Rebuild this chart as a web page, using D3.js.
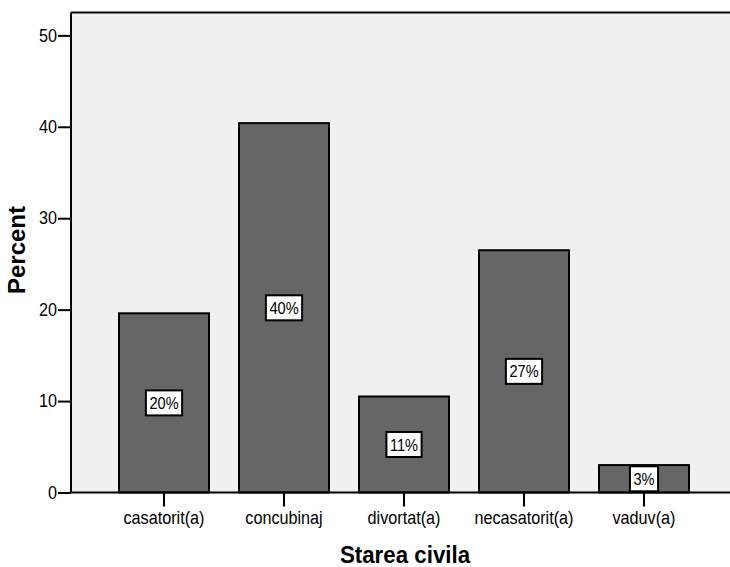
<!DOCTYPE html>
<html>
<head>
<meta charset="utf-8">
<script src="https://cdn.jsdelivr.net/npm/d3@7/dist/d3.min.js"></script>
<style>
  html, body { margin: 0; padding: 0; background: #ffffff; }
  svg { display: block; }
  text { font-family: "Liberation Sans", Arial, sans-serif; }
</style>
</head>
<body>
<svg id="chart" width="730" height="567"></svg>
<script>
const categories = ["casatorit(a)", "concubinaj", "divortat(a)", "necasatorit(a)", "vaduv(a)"];
const percentValues = [19.6, 40.4, 10.5, 26.5, 3.0];
const barLabels = ["20%", "40%", "11%", "27%", "3%"];
const yTickValues = [0, 10, 20, 30, 40, 50];
const xAxisTitle = "Starea civila";
const yAxisTitle = "Percent";

const svg = d3.select("#chart");
const plot = { left: 71, top: 12.5, right: 731, bottom: 492.5 };
const SX = 0.9;

const x = d3.scaleBand()
  .domain(categories)
  .range([104, 704])
  .paddingInner(0.25)
  .paddingOuter(0.125);

const y = d3.scaleLinear()
  .domain([0, 52.5])
  .range([plot.bottom, plot.top]);

svg.append("rect")
  .attr("x", plot.left).attr("y", plot.top)
  .attr("width", plot.right - plot.left).attr("height", plot.bottom - plot.top)
  .attr("fill", "#f0f0f0");

svg.append("line")
  .attr("x1", plot.left).attr("x2", plot.right)
  .attr("y1", plot.top).attr("y2", plot.top)
  .attr("stroke", "#000").attr("stroke-width", 2);

const data = categories.map((c, i) => ({ c, v: percentValues[i], label: barLabels[i] }));

svg.append("g").selectAll("rect")
  .data(data).join("rect")
  .attr("x", d => x(d.c))
  .attr("y", d => y(d.v))
  .attr("width", x.bandwidth())
  .attr("height", d => y(0) - y(d.v))
  .attr("fill", "#666666")
  .attr("stroke", "#000")
  .attr("stroke-width", 2);

// y axis
const yAxis = d3.axisLeft(y).tickValues(yTickValues).tickSize(13).tickPadding(1).tickFormat(d3.format("d"));
const gy = svg.append("g").attr("transform", `translate(${plot.left},0)`).call(yAxis);
gy.select(".domain").attr("d", `M0,${plot.top}V${plot.bottom}`).attr("stroke", "#000").attr("stroke-width", 2);
gy.selectAll(".tick line").attr("stroke", "#000").attr("stroke-width", 2);
gy.selectAll(".tick text").each(function () {
  const t = d3.select(this);
  const xx = +t.attr("x");
  t.attr("x", null)
    .attr("transform", `translate(${xx},0) scale(${SX},1)`)
    .attr("font-size", 18).attr("fill", "#000")
    .attr("font-family", "Liberation Sans, Arial, sans-serif");
});

// x axis
const xAxis = d3.axisBottom(x).tickSize(14).tickPadding(6);
const gx = svg.append("g").attr("transform", `translate(0,${plot.bottom})`).call(xAxis);
gx.select(".domain").attr("d", `M${plot.left},0H${plot.right}`).attr("stroke", "#000").attr("stroke-width", 2);
gx.selectAll(".tick line").attr("stroke", "#000").attr("stroke-width", 2);
gx.selectAll(".tick text").each(function () {
  const t = d3.select(this);
  const yy = +t.attr("y");
  t.attr("y", null)
    .attr("transform", `translate(0,${yy - 1}) scale(${SX},1)`)
    .attr("font-size", 18).attr("fill", "#000")
    .attr("font-family", "Liberation Sans, Arial, sans-serif");
});

// bar labels
const lbl = svg.append("g").selectAll("g")
  .data(data).join("g")
  .attr("transform", d => `translate(${x(d.c) + x.bandwidth() / 2},${(y(d.v) + y(0)) / 2})`);

lbl.append("text")
  .attr("text-anchor", "middle")
  .attr("dy", "0.36em")
  .attr("font-size", 17)
  .attr("transform", "scale(0.86,1)")
  .attr("fill", "#000")
  .text(d => d.label)
  .each(function () {
    const b = this.getBBox();
    const w = b.width * 0.86 + 7;
    d3.select(this.parentNode).insert("rect", "text")
      .attr("x", -w / 2).attr("y", -12.5)
      .attr("width", w).attr("height", 25)
      .attr("fill", "#fff").attr("stroke", "#000").attr("stroke-width", 2);
  });

// axis titles
svg.append("text")
  .attr("transform", "translate(405,563) scale(0.93,1)")
  .attr("text-anchor", "middle")
  .attr("font-size", 24).attr("font-weight", "bold")
  .text(xAxisTitle);

svg.append("text")
  .attr("transform", "translate(25,250) rotate(-90)")
  .attr("text-anchor", "middle")
  .attr("font-size", 24).attr("font-weight", "bold")
  .text(yAxisTitle);
</script>
</body>
</html>
